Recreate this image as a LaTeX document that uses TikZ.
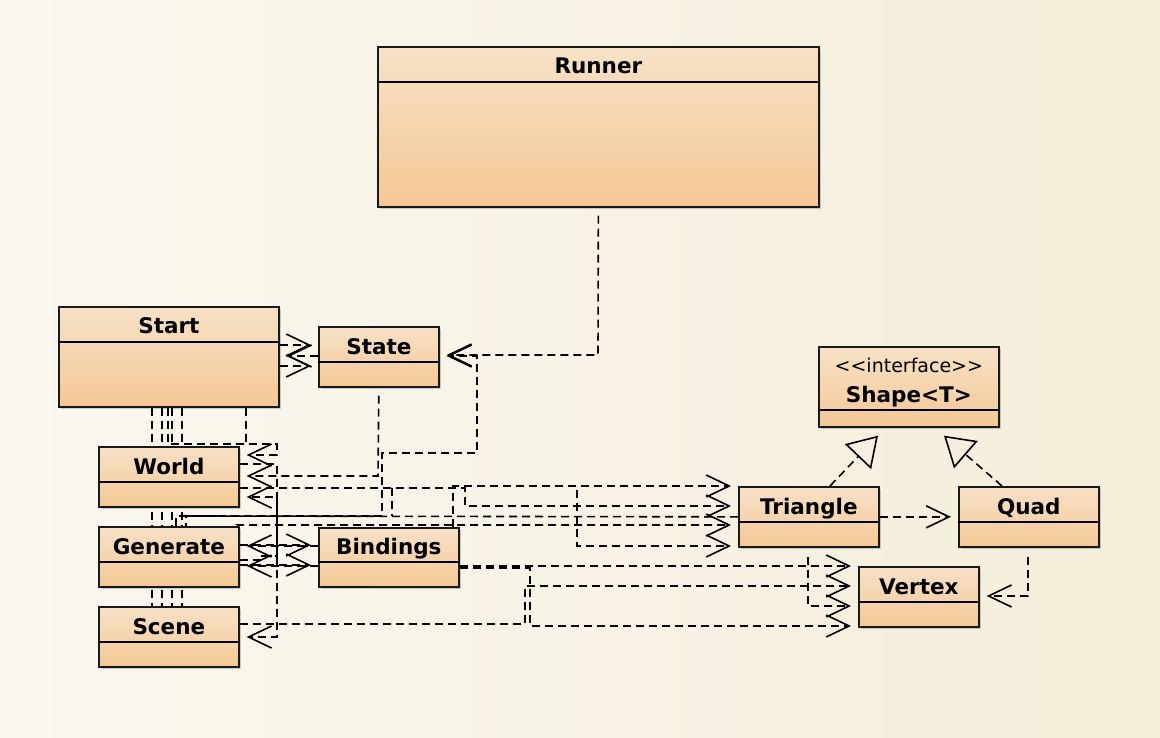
\documentclass[tikz,border=0pt]{standalone}
\usepackage{fontspec}
\setmainfont{DejaVu Sans}
\usetikzlibrary{arrows.meta,shadows,calc}
\definecolor{bgl}{HTML}{FAF8F0}
\definecolor{bgr}{HTML}{F4EDD9}
\definecolor{boxtop}{HTML}{F7E1C7}
\definecolor{boxbot}{HTML}{F4C895}
\pgfdeclarelayer{bglayer}
\pgfdeclarelayer{lines}
\pgfsetlayers{bglayer,lines,main}
\begin{document}
\begin{tikzpicture}[x=1pt,y=-1pt,
  umlbox/.style={draw=black!90, line width=1.7pt, top color=boxtop, bottom color=boxbot,
    inner sep=0pt, anchor=north west,
    drop shadow={shadow xshift=2.5pt,shadow yshift=-2.5pt,opacity=0.18,fill=black}},
  ttl/.style={font=\fontsize{21.5}{25}\selectfont\bfseries, inner sep=0pt, anchor=base},
  stereo/.style={font=\fontsize{19}{22}\selectfont, inner sep=0pt, anchor=base},
  dl/.style={line width=1.6pt, dash pattern=on 8pt off 5pt},
  dep/.style={dl, shorten >=7pt, -{Straight Barb[length=23pt,width=22pt]}},
  real/.style={dl, -{Triangle[open,length=29pt,width=36pt]}},
  divl/.style={line width=1.4pt}]
\useasboundingbox (0,0) rectangle (1160,738);
\begin{pgfonlayer}{bglayer}
  \shade[left color=bgl, right color=bgr] (0,0) rectangle (1160,738);
\end{pgfonlayer}

% boxes
\node[umlbox, minimum width=441pt, minimum height=160pt] (runner) at (377,46) {};
\node[umlbox, minimum width=220pt, minimum height=100pt] (start) at (58,306) {};
\node[umlbox, minimum width=120pt, minimum height=60pt] (state) at (318,326) {};
\node[umlbox, minimum width=140pt, minimum height=60pt] (world) at (98,446) {};
\node[umlbox, minimum width=140pt, minimum height=60pt] (generate) at (98,526) {};
\node[umlbox, minimum width=140pt, minimum height=60pt] (scene) at (98,606) {};
\node[umlbox, minimum width=140pt, minimum height=59pt] (bindings) at (318,527) {};
\node[umlbox, minimum width=180pt, minimum height=80pt] (shape) at (818,346) {};
\node[umlbox, minimum width=140pt, minimum height=60pt] (tri) at (738,486) {};
\node[umlbox, minimum width=140pt, minimum height=60pt] (quad) at (958,486) {};
\node[umlbox, minimum width=120pt, minimum height=60pt] (vertex) at (858,566) {};

% dividers
\draw[divl] (runner.west |- 0,82) -- (runner.east |- 0,82);
\draw[divl] (start.west |- 0,342) -- (start.east |- 0,342);
\draw[divl] (state.west |- 0,362) -- (state.east |- 0,362);
\draw[divl] (world.west |- 0,482) -- (world.east |- 0,482);
\draw[divl] (generate.west |- 0,562) -- (generate.east |- 0,562);
\draw[divl] (scene.west |- 0,642) -- (scene.east |- 0,642);
\draw[divl] (bindings.west |- 0,562) -- (bindings.east |- 0,562);
\draw[divl] (shape.west |- 0,410) -- (shape.east |- 0,410);
\draw[divl] (tri.west |- 0,522) -- (tri.east |- 0,522);
\draw[divl] (quad.west |- 0,522) -- (quad.east |- 0,522);
\draw[divl] (vertex.west |- 0,602) -- (vertex.east |- 0,602);

% titles
\node[ttl] (runnerT) at (runner.north |- 0,74) {Runner};
\node[ttl] (startT) at (start.north |- 0,334) {Start};
\node[ttl] (stateT) at (state.north |- 0,354) {State};
\node[ttl] (worldT) at (world.north |- 0,474) {World};
\node[ttl] (generateT) at (generate.north |- 0,554) {Generate};
\node[ttl] (sceneT) at (scene.north |- 0,634) {Scene};
\node[ttl] (bindingsT) at (bindings.north |- 0,554) {Bindings};
\node[stereo] (shapeS) at (shape.north |- 0,372) {{<}{<}interface{>}{>}};
\node[ttl] (shapeT) at (shape.north |- 0,402) {Shape{<}T{>}};
\node[ttl] (triT) at (tri.north |- 0,514) {Triangle};
\node[ttl] (quadT) at (quad.north |- 0,514) {Quad};
\node[ttl] (vertexT) at (vertex.north |- 0,594) {Vertex};

% connectors
\begin{pgfonlayer}{lines}
  % Runner -> State
  \draw[dep, shorten <=8pt] (runner.south) -- (598,355) -- (state.east |- 0,355);
  % Start <-> State
  \draw[dep] (start.east |- 0,345) -- (state.west |- 0,345);
  \draw[dep] (start.east |- 0,366) -- (state.west |- 0,366);
  \draw[dep] (state.west |- 0,356) -- (start.east |- 0,356);
  % Start -> World (bus)
  \draw[dep] (start.south -| 246,0) -- (246,444) -- (277,444) -- (277,455) -- (world.east |- 0,455);
  \draw[dl] (start.south -| 152,0) -- (scene.north -| 152,0);
  \draw[dl] (start.south -| 162,0) -- (scene.north -| 162,0);
  \draw[dl] (start.south -| 172,0) -- (scene.north -| 172,0);
  \draw[dl] (start.south -| 182,0) -- (scene.north -| 182,0);
  \draw[dl] (start.south -| 168,0) -- (168,444) -- (277,444);
  % State -> World
  \draw[dep, shorten <=8pt] (state.south) -- (378,476) -- (world.east |- 0,476);
  % World -> Scene
  \draw[dep] (world.east |- 0,464) -- (277,464) -- (277,637) -- (scene.east |- 0,637);
  % Generate -> World
  \draw[dep] (generate.east |- 0,560) -- (262,560) -- (262,556) -- (277,556) -- (277,497) -- (world.east |- 0,497);
  % World -> Triangle
  \draw[dep] (world.east |- 0,488) -- (465,488) -- (465,506) -- (tri.west |- 0,506);
  \draw[dl] (392,488) -- (392,516);
  % Bindings -> Triangle
  \draw[dep] (bindings.north -| 453,0) -- (453,486) -- (tri.west |- 0,486);
  \draw[dep] (bindings.north -| 453,0) -- (453,486) -- (577,486) -- (577,546) -- (tri.west |- 0,546);
  % Generate -> Triangle
  \draw[dep] (generate.north east) -- (238,525) -- (tri.west |- 0,525);
  % Triangle -- Generate
  \draw[dl] (tri.west) -- (186,516) -- (generate.north -| 186,0);
  % Generate -> State
  \draw[dep] (generate.north -| 176,0) -- (176,516) -- (382,516) -- (382,453) -- (477,453) -- (477,356) -- (state.east |- 0,356);
  % Generate <-> Bindings
  \draw[dep] (generate.east |- 0,545) -- (bindings.west |- 0,545);
  \draw[dep] (bindings.west |- 0,546) -- (generate.east |- 0,546);
  \draw[dep] (generate.east |- 0,565) -- (bindings.west |- 0,565);
  \draw[dep] (bindings.west |- 0,566) -- (generate.east |- 0,566);
  % Bindings -> Vertex
  \draw[dep] (bindings.east |- 0,566) -- (vertex.west |- 0,566);
  \draw[dep] (bindings.east |- 0,568) -- (530,568) -- (530,626) -- (vertex.west |- 0,626);
  % Scene -> Vertex
  \draw[dep] (scene.east |- 0,624) -- (525,624) -- (525,586) -- (vertex.west |- 0,586);
  % Triangle -> Vertex
  \draw[dep, shorten <=9pt] (tri.south -| 808,0) -- (808,606) -- (vertex.west |- 0,606);
  % Quad -> Vertex
  \draw[dep, shorten <=9pt] (quad.south -| 1028,0) -- (1028,596) -- (vertex.east |- 0,596);
  % Triangle -> Quad
  \draw[dep] (tri.east) -- (quad.west);
  % realizations
  \draw[real] (tri.north -| 830,0) -- ($(shape.south -| 878,0)+(0,8)$);
  \draw[real] (quad.north -| 1002,0) -- ($(shape.south -| 944,0)+(0,8)$);
\end{pgfonlayer}
\end{tikzpicture}
\end{document}
